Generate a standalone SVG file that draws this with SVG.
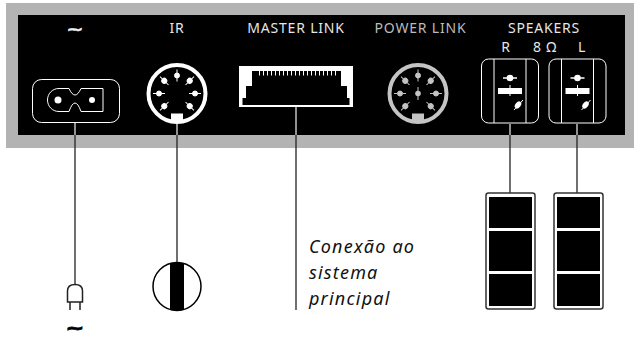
<svg xmlns="http://www.w3.org/2000/svg" width="642" height="338" viewBox="0 0 642 338">
<defs><style>
text{font-family:"Noto Sans","Open Sans","Liberation Sans",sans-serif}
.l{fill:#e6e6e6;font-size:14px;letter-spacing:.8px;text-anchor:middle}
.w{fill:none;stroke:#fff;stroke-width:1}
.c{fill:none;stroke:#222;stroke-width:1.3}
.cw{fill:none;stroke:#ddd;stroke-width:1.3}
.cap{font-size:18px;font-style:italic;fill:#111;letter-spacing:1.2px}
.blk{fill:#000}
.t{font-family:"DejaVu Sans",sans-serif;text-anchor:middle;font-size:16px;font-weight:700}
</style>
<g id="din7"><circle r="28.5" fill="none" stroke="currentColor" stroke-width="4"/>
<g fill="currentColor" stroke="currentColor" stroke-width="1">
<g id="pin"><circle cy="-18" r="2.500"/><path d="M0-24V-12"/></g>
<use href="#pin" transform="rotate(45)"/><use href="#pin" transform="rotate(-45)"/><use href="#pin" transform="rotate(90)"/><use href="#pin" transform="rotate(-90)"/><use href="#pin" transform="rotate(135)"/><use href="#pin" transform="rotate(-135)"/></g>
<rect x="-6" y="20" width="12" height="9" fill="currentColor"/></g>
<g id="spk"><rect x="-28.500" y="0" width="57" height="64" rx="7" class="w"/>
<path d="M-16 0V64M16 0V64" class="w"/>
<rect x="-12" y="29" width="24" height="6" fill="#fff"/><path d="M0 26V37" stroke="#fff"/>
<circle cy="19" r="3.300" fill="#fff"/><path d="M-7 19H7" stroke="#fff" stroke-width="1.500"/>
<ellipse cx="8" cy="46" rx="2.600" ry="4" transform="rotate(40 8 46)" fill="#fff"/><path d="M4 51L13 41" stroke="#fff"/></g>
<g id="box"><rect x="0" y="0" width="49" height="116" rx="2.500" fill="#fff" stroke="#333" stroke-width="1.500"/>
<rect x="3" y="4" width="43" height="31" class="blk"/><rect x="3" y="38" width="43" height="40" class="blk"/><rect x="3" y="81" width="43" height="32" class="blk"/></g>
</defs>
<rect width="642" height="338" fill="#fff"/>
<rect id="panel" x="6" y="3" width="628" height="145" fill="#b3b3b3"/>
<rect id="panel-inner" x="18" y="15" width="607" height="120" fill="#000"/>
<g id="connectors">
<path class="c" d="M75 135V285"/><path class="c" d="M177 135V262"/><path class="c" d="M296 135V310"/><path class="c" d="M510 135V193"/><path class="c" d="M577 135V193"/>
<path class="cw" d="M75 123V135M177 124V135M296 106V135M510 124V135M577 124V135"/>
</g>
<g id="power-in">
<text class="t" transform="translate(75 34.500) scale(1.3 1)" style="fill:#eee;stroke:#eee;stroke-width:.4">~</text>
<rect x="32.500" y="79.500" width="87" height="43" rx="9" class="w"/>
<path class="w" d="M103 88.500H81Q78 95 75 95Q72 95 69 88.500H59C52 88.500 47.500 94 47.500 100C47.500 106 52 111.500 59 111.500H69Q72 103 75 103Q78 103 81 111.500H103Z"/>
<circle cx="58" cy="100" r="3.500" fill="#fff"/><circle cx="92" cy="100" r="3" fill="#fff"/>
</g>
<g id="ir">
<text class="l" x="177" y="33">IR</text>
<use href="#din7" x="177" y="93.500" color="#fff"/>
</g>
<g id="master-link">
<text class="l" x="296" y="33">MASTER LINK</text>
<rect x="239" y="66" width="114" height="41" fill="#fff"/>
<path class="blk" d="M252 71H341V86H347V98H349.500V105H242.500V98H246V86H252Z"/>
<path d="M259.500 71V75.500M263.500 71V75.500M267.500 71V75.500M271.500 71V75.500M275.500 71V75.500M279.500 71V75.500M283.500 71V75.500M287.500 71V75.500M291.500 71V75.500M295.500 71V75.500M299.500 71V75.500M303.500 71V75.500M307.500 71V75.500M311.500 71V75.500M315.500 71V75.500M319.500 71V75.500M323.500 71V75.500M327.500 71V75.500M331.500 71V75.500M335.500 71V75.500" stroke="#fff"/>
</g>
<g id="power-link">
<text class="l" x="420.500" y="33" style="fill:#bbb">POWER LINK</text>
<use href="#din7" x="418" y="93.500" color="#c4c4c4"/>
<circle cx="418" cy="93.500" r="2.800" fill="#c4c4c4"/><path d="M418 87V100" stroke="#c4c4c4"/>
</g>
<g id="speakers">
<text class="l" x="544" y="33">SPEAKERS</text>
<text class="l" x="506" y="52">R</text><text class="l" x="545" y="52">8 Ω</text><text class="l" x="582" y="52">L</text>
<use href="#spk" x="510" y="59"/>
<use href="#spk" x="577.500" y="59"/>
</g>
<g id="plug">
<path class="c" style="stroke-width:1.500" d="M67.500 302V291C67.500 286 71 284.500 75 284.500C79 284.500 82.500 286 82.500 291V302ZM70 302V310M80 302V310"/>
<text class="t" transform="translate(75 334) scale(1.4 1.1)" style="fill:#000;stroke:#000;stroke-width:.7">~</text>
</g>
<g id="ir-receiver">
<circle cx="177" cy="286.500" r="24" fill="#fff" stroke="#000" stroke-width="1.500"/>
<path class="blk" d="M170 263H184V310H170Z"/>
</g>
<g id="caption">
<text class="cap" x="309" y="253">Conexão ao</text><text class="cap" x="309" y="279">sistema</text><text class="cap" x="309" y="305">principal</text>
</g>
<g id="speaker-boxes">
<use href="#box" x="486" y="193"/>
<use href="#box" x="554" y="193"/>
</g>
</svg>
